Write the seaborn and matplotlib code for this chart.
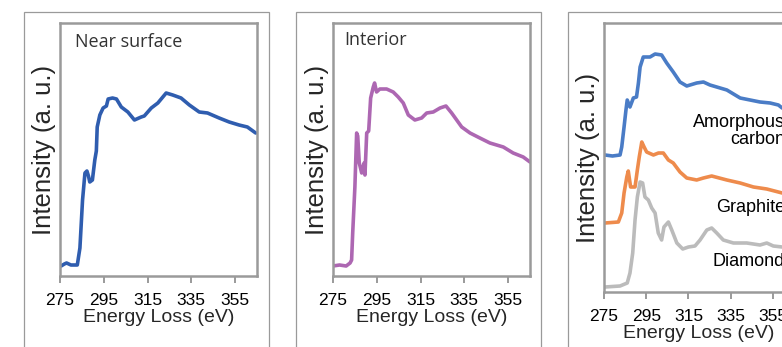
import matplotlib
matplotlib.use("Agg")
import matplotlib.pyplot as plt
import seaborn as sns
import pandas as pd
from matplotlib.patches import Rectangle

# ---------------- data ----------------
ticks = [275, 295, 315, 335, 355]

near_E = [275.5, 277, 278, 280, 282.9, 284.1, 285.3, 286.4, 287.3, 288.0, 288.6, 289.8, 290.9,
          291.6, 292.0, 293.2, 294.7, 296.2, 297.0, 299, 300.8, 303, 306, 309, 312.1, 313.5,
          316.7, 319.7, 323.5, 326.5, 330.3, 334.1, 338.6, 342.4, 347.7, 352.3, 356.8, 360.6, 364.4]
near_I = [10, 12, 13, 11, 11, 28, 76, 103, 105, 100, 94, 96, 116,
          125, 149, 161, 168, 170, 177, 178, 177, 169, 164, 156, 159, 160,
          168, 173, 183, 181, 178, 171, 164, 163, 158, 154, 151, 149, 143]

int_E = [275, 278, 281, 282.8, 283.5, 284, 285, 285.8, 286.3, 287, 288.1, 289.2, 289.6, 290.4,
         291.3, 292.2, 293.4, 294, 294.9, 296.4, 299.5, 302.5, 304.8, 307.1, 309.4, 312.4, 315.5,
         317.8, 320.8, 323.9, 326.6, 329.2, 331.5, 333.8, 337.6, 342.1, 346.7, 352.8, 357.3, 361.9, 365]
int_I = [10, 11, 10, 13, 16, 43, 89, 143, 140, 113, 103, 113, 101, 143,
         145, 178, 189, 193, 184, 187, 187, 184, 179, 173, 161, 156, 158,
         163, 164, 168, 170, 163, 156, 149, 143, 138, 133, 129, 123, 119, 114]

amor_E = [275.5, 279, 282.6, 283.4, 284.5, 285.4, 286, 287.3, 288.9, 290.4, 291.3, 292.1, 293.6,
          296.8, 299.2, 302.3, 304.7, 307.8, 311, 314.2, 318.9, 322.1, 325.2, 326.8, 333.2, 339.5,
          344.2, 348.9, 353.7, 357.6, 359.4, 362, 365]
amor_I = [137, 136, 137, 145, 165, 182, 192, 185, 194, 195, 209, 225, 235,
          235, 238, 237, 229, 220, 210, 206, 209, 210, 207, 206, 202, 194,
          192, 190, 189, 187, 184, 183, 181]

graph_E = [275.5, 281.8, 283.4, 284.5, 285.8, 286.5, 287.6, 289.7, 290.8, 291.7, 292.9, 294, 295.2,
           298.4, 300.8, 303.1, 305.5, 307.8, 311, 314.2, 318.9, 322.1, 326, 333.2, 339.5, 345.8,
           352.1, 359.4, 365]
graph_I = [69, 70, 79, 99, 115, 121, 105, 105, 122, 135, 150, 145, 140,
           137, 139, 139, 132, 129, 120, 114, 112, 114, 116, 112, 109, 105,
           103, 99, 97]

diam_E = [275.5, 282.6, 286, 287.3, 288.6, 289.7, 290.8, 292.1, 293.3, 294.4, 296, 297.6, 299.2,
          300.7, 302.3, 303.4, 305.5, 307.1, 309.5, 312.3, 315, 318.1, 320.5, 323.7, 326, 328.4,
          331.5, 336.3, 342.6, 348.9, 352.1, 355.2, 359.4, 365]
diam_I = [5, 6, 9, 19, 39, 72, 95, 110, 109, 95, 92, 84, 79,
          59, 52, 65, 70, 62, 49, 43, 45, 46, 52, 62, 64, 59,
          52, 49, 49, 47, 49, 46, 45, 44]

panel_titles = ["Near surface", "Interior"]
ref_labels = ["Amorphous\ncarbon", "Graphite", "Diamond"]
ref_label_y = [161, 85, 30]

# ---------------- style ----------------
sns.set_style("white")
plt.rcParams["font.family"] = ["Liberation Sans", "DejaVu Sans"]

W, H = 782, 347
fig = plt.figure(figsize=(W / 100, H / 100), dpi=100)

FRAME = "#9a9a9a"


def ax_at(l, t, r, b):
    return fig.add_axes([l / W, 1 - b / H, (r - l) / W, (b - t) / H])


def outer(l, t, r):
    fig.add_artist(Rectangle((l / W, -0.2), (r - l) / W, 1 - t / H + 0.2,
                             transform=fig.transFigure, fill=False,
                             ec=FRAME, lw=0.9, clip_on=False))


outer(24, 12, 269)
outer(296, 12, 541)
outer(568, 12, 900)


def style(ax, ylim):
    ax.set_xlim(275, 365)
    ax.set_ylim(*ylim)
    ax.set_xticks(ticks)
    ax.set_xticklabels([str(t) for t in ticks])
    ax.set_yticks([])
    for s in ax.spines.values():
        s.set_visible(True)
        s.set_color(FRAME)
        s.set_linewidth(1.8)
    ax.tick_params(axis="x", direction="out", length=5, width=1.4, color=FRAME,
                   labelsize=12.5, labelcolor="black", pad=7, bottom=True)
    ax.set_xlabel("Energy Loss (eV)", fontsize=14, labelpad=1)
    ax.set_ylabel("Intensity (a. u.)", fontsize=18.5, labelpad=3)


LW = 2.6

ax1 = ax_at(60, 23, 257, 276)
sns.lineplot(data=pd.DataFrame({"E": near_E, "I": near_I}), x="E", y="I",
             ax=ax1, color="#2F5DAF", lw=LW, sort=False)
style(ax1, (0, 253))
ax1.text(0.075, 0.96, panel_titles[0], transform=ax1.transAxes, fontsize=13,
         family=["Open Sans", "DejaVu Sans"], color="#333333", va="top", ha="left")

ax2 = ax_at(333, 23, 530, 276)
sns.lineplot(data=pd.DataFrame({"E": int_E, "I": int_I}), x="E", y="I",
             ax=ax2, color="#AD67B2", lw=LW, sort=False)
style(ax2, (0, 253))
ax2.text(0.055, 0.97, panel_titles[1], transform=ax2.transAxes, fontsize=13,
         family=["Open Sans", "DejaVu Sans"], color="#333333", va="top", ha="left")

ax3 = ax_at(604, 23, 794, 292)
for E, I, c in [(amor_E, amor_I, "#4A7CC6"), (graph_E, graph_I, "#EE8B4C"),
                (diam_E, diam_I, "#BBBBBB")]:
    sns.lineplot(data=pd.DataFrame({"E": E, "I": I}), x="E", y="I",
                 ax=ax3, color=c, lw=LW, sort=False)
style(ax3, (0, 269))
for lab, y in zip(ref_labels, ref_label_y):
    ax3.text(360.8, y, lab, fontsize=13, ha="right", va="center",
             linespacing=1.0, color="black")

fig.savefig("out.png", dpi=100)
